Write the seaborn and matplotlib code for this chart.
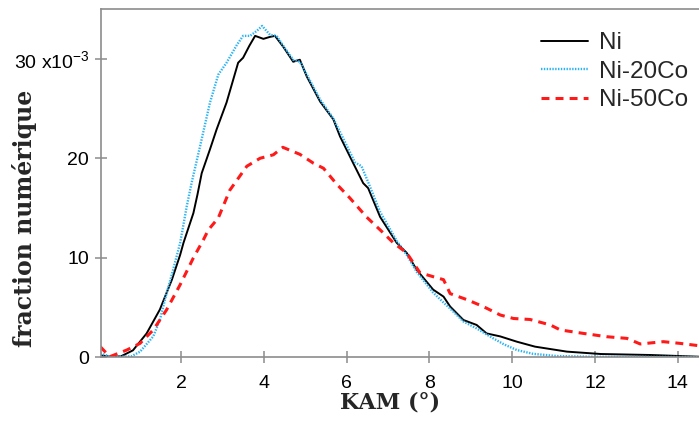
import matplotlib
matplotlib.use("Agg")
import matplotlib.pyplot as plt
import seaborn as sns
import pandas as pd

# ---- data (y in units of 1e-3) ----
ni_x = [0.05, 0.3, 0.55, 0.84, 1.17, 1.49, 1.78, 1.98, 2.06, 2.30, 2.40, 2.50, 2.70, 2.86, 3.10, 3.38,
        3.50, 3.65, 3.79, 3.99, 4.15, 4.27, 4.47, 4.71, 4.87, 5.04, 5.36, 5.68, 5.84, 6.16, 6.40,
        6.52, 6.81, 7.21, 7.45, 7.69, 8.09, 8.34, 8.50, 8.82, 9.14, 9.38, 9.71, 10.11, 10.55,
        11.32, 12.14, 13.35, 14.5]
ni_y = [0.2, 0.05, 0.1, 0.7, 2.4, 4.8, 7.8, 10.3, 11.5, 14.5, 16.4, 18.5, 20.9, 22.9, 25.6, 29.6,
        30.1, 31.3, 32.3, 32.0, 32.2, 32.3, 31.2, 29.7, 29.9, 28.2, 25.7, 23.9, 22.2, 19.5, 17.5,
        17.0, 14.1, 11.5, 10.5, 8.8, 6.8, 6.1, 5.1, 3.75, 3.25, 2.4, 2.1, 1.57, 1.07,
        0.57, 0.33, 0.23, 0.06]

co20_x = [0.05, 0.3, 0.8, 1.01, 1.33, 1.49, 1.65, 1.81, 1.98, 2.14, 2.26, 2.46, 2.70, 2.90, 3.10,
          3.35, 3.50, 3.67, 3.83, 3.96, 4.15, 4.31, 4.47, 4.71, 4.87, 5.04, 5.36, 5.68, 6.00, 6.20,
          6.36, 6.52, 6.81, 7.21, 7.45, 7.69, 8.09, 8.34, 8.50, 8.82, 9.14, 9.5, 9.8, 10.11, 10.5,
          11.07, 12.0, 14.5]
co20_y = [0.4, 0.05, 0.1, 0.56, 2.1, 3.75, 6.4, 8.8, 11.5, 15.2, 17.6, 21.2, 25.6, 28.4, 29.6,
          31.4, 32.3, 32.3, 32.8, 33.3, 32.4, 32.3, 31.3, 29.9, 29.7, 28.4, 25.9, 24.0, 21.3, 19.6,
          19.2, 17.6, 14.6, 11.7, 10.3, 8.6, 6.5, 5.5, 4.9, 3.6, 2.9, 2.0, 1.3, 0.73, 0.35,
          0.13, 0.05, 0.03]

co50_x = [0.05, 0.28, 0.69, 1.01, 1.33, 1.65, 1.98, 2.30, 2.54, 2.66, 2.90, 3.18, 3.59, 3.91, 4.23,
          4.46, 4.87, 5.20, 5.44, 5.76, 6.08, 6.48, 6.81, 7.13, 7.45, 7.77, 8.09, 8.34, 8.50, 8.90,
          9.30, 9.71, 10.03, 10.43, 10.92, 11.16, 11.72, 12.28, 12.77, 13.09, 13.65, 14.05, 14.5]
co50_y = [1.07, 0.06, 0.73, 1.4, 2.75, 4.76, 7.3, 10.0, 11.8, 12.8, 14.0, 16.8, 19.2, 20.0, 20.35,
          21.1, 20.4, 19.5, 19.0, 17.4, 16.0, 14.1, 12.8, 11.5, 10.5, 8.5, 8.1, 7.8, 6.4, 5.8,
          5.1, 4.25, 3.9, 3.8, 3.25, 2.75, 2.4, 2.07, 1.9, 1.34, 1.57, 1.4, 1.17]

series_names = ["Ni", "Ni-20Co", "Ni-50Co"]
x_ticks = [2, 4, 6, 8, 10, 12, 14]
y_ticks = [0, 10, 20, 30]
y_ticklabels = ["0", "10", "20", "30 x10$^{-3}$"]

# ---- style ----
sns.set_style("ticks")
plt.rcParams["font.family"] = ["Liberation Sans", "DejaVu Sans"]
plt.rcParams["mathtext.default"] = "regular"

fig = plt.figure(figsize=(6.99, 4.30), dpi=100)
ax = fig.add_axes([101 / 699, (430 - 357.3) / 430, 598 / 699, 348.3 / 430])

df_ni = pd.DataFrame({"x": ni_x, "y": ni_y})
df_20 = pd.DataFrame({"x": co20_x, "y": co20_y})
df_50 = pd.DataFrame({"x": co50_x, "y": co50_y})

sns.lineplot(data=df_ni, x="x", y="y", ax=ax, color="black", lw=1.4,
             label=series_names[0], sort=False)
sns.lineplot(data=df_20, x="x", y="y", ax=ax, color="#2ab4f5", lw=1.7,
             linestyle=(0, (0.6, 0.6)), label=series_names[1], sort=False)
sns.lineplot(data=df_50, x="x", y="y", ax=ax, color="#ff1a1a", lw=2.2,
             linestyle=(0, (2.6, 2.0)), label=series_names[2], sort=False)

ax.set_xlim(0.068, 14.51)
ax.set_ylim(0, 35.0)
ax.set_xticks(x_ticks)
ax.set_yticks(y_ticks)
ax.set_yticklabels(y_ticklabels)

spine_col = "#8c8c8c"
for s in ["left", "bottom", "top"]:
    ax.spines[s].set_color(spine_col)
    ax.spines[s].set_linewidth(1.2)
ax.spines["right"].set_visible(False)
ax.tick_params(axis="both", direction="inout", length=9, width=1.1, color=spine_col,
               labelsize=14, labelcolor="black")
ax.tick_params(axis="y", pad=4)
ax.tick_params(axis="x", pad=8)

ax.set_xlabel("KAM (°)", family="DejaVu Serif", fontweight="bold", fontsize=16)
ax.set_ylabel("fraction numérique", family="DejaVu Serif", fontweight="bold", fontsize=17)
ax.xaxis.set_label_coords((390 - 101) / 598, (357.3 - 391) / 348.3)
ax.yaxis.set_label_coords((37 - 101) / 598, (357.3 - 218.5) / 348.3)

leg = ax.legend(frameon=False, loc="upper left", fontsize=17.5,
                bbox_to_anchor=(541 / 699, (430 - 32) / 430),
                bbox_transform=fig.transFigure, borderpad=0, borderaxespad=0,
                handlelength=1.95, handletextpad=0.42, labelspacing=0.27)

fig.savefig("out.png", dpi=100)
